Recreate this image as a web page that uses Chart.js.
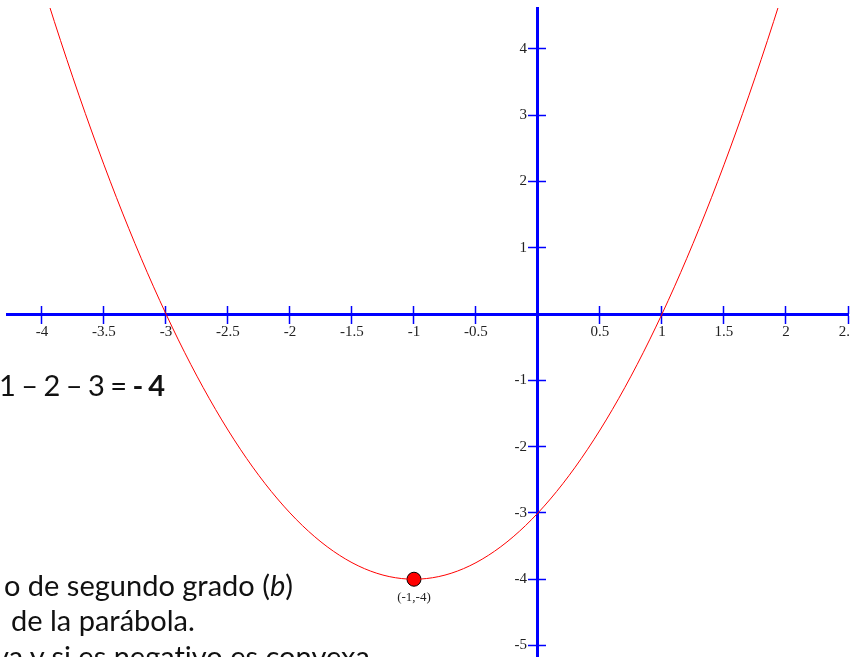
<!DOCTYPE html>
<html>
<head>
<meta charset="utf-8">
<script src="https://cdn.jsdelivr.net/npm/chart.js@4.4.1/dist/chart.umd.min.js"></script>
<style>
  html, body { margin: 0; padding: 0; background: #fff; }
  #wrap { position: relative; width: 850px; height: 657px; overflow: hidden; }
  #chart { position: absolute; left: 0; top: 0; }
  .note {
    position: absolute;
    white-space: nowrap;
    font-family: Lato, "Open Sans", sans-serif;
    font-size: 29px;
    line-height: 1;
    color: #111;
    font-variant-ligatures: none;
  }
</style>
</head>
<body>
<div id="wrap">
  <canvas id="chart" width="850" height="657"></canvas>
  <div class="note" style="left:-1px; top:370px; word-spacing:-2px">1 – 2 – 3 = <b>- 4</b></div>
  <div class="note" style="left:4px; top:570px">o de segundo grado (<i>b</i>)</div>
  <div class="note" style="left:11px; top:605px">de la parábola.</div>
  <div class="note" style="left:-6px; top:641px">va y si es negativo es convexa</div>
</div>
<script>
const curveX = [-4, -3.9, -3.8, -3.7, -3.6, -3.5, -3.4, -3.3, -3.2, -3.1,
  -3, -2.9, -2.8, -2.7, -2.6, -2.5, -2.4, -2.3, -2.2, -2.1,
  -2, -1.9, -1.8, -1.7, -1.6, -1.5, -1.4, -1.3, -1.2, -1.1,
  -1, -0.9, -0.8, -0.7, -0.6, -0.5, -0.4, -0.3, -0.2, -0.1,
  0, 0.1, 0.2, 0.3, 0.4, 0.5, 0.6, 0.7, 0.8, 0.9,
  1, 1.1, 1.2, 1.3, 1.4, 1.5, 1.6, 1.7, 1.8, 1.9, 2]
const curveY = [5, 4.41, 3.84, 3.29, 2.76, 2.25, 1.76, 1.29, 0.84, 0.41,
  0, -0.39, -0.76, -1.11, -1.44, -1.75, -2.04, -2.31, -2.56, -2.79,
  -3, -3.19, -3.36, -3.51, -3.64, -3.75, -3.84, -3.91, -3.96, -3.99,
  -4, -3.99, -3.96, -3.91, -3.84, -3.75, -3.64, -3.51, -3.36, -3.19,
  -3, -2.79, -2.56, -2.31, -2.04, -1.75, -1.44, -1.11, -0.76, -0.39,
  0, 0.41, 0.84, 1.29, 1.76, 2.25, 2.76, 3.29, 3.84, 4.41, 5]

const vertexX = [-1]
const vertexY = [-4]

const xTicks = [-4, -3.5, -3, -2.5, -2, -1.5, -1, -0.5, 0.5, 1, 1.5, 2, 2.5]
const yTicks = [-5, -4, -3, -2, -1, 1, 2, 3, 4]

const xRange = [-4.282, 2.5]
const yRange = [-5.173, 4.615]

const blue = '#0000ff'
const tickFont = { family: '"Liberation Serif", "Times New Roman", serif', size: 15 }

const curve = curveX.map((x, i) => ({ x: x, y: curveY[i] }))
const vertex = vertexX.map((x, i) => ({ x: x, y: vertexY[i] }))

const setTicks = list => scale => { scale.ticks = list.map(v => ({ value: v })) }
// axes sit inside the plot, so they should not take any room from it
const flat = s => {
  if (s.isHorizontal()) s.height = 0
  else s.width = 0
  s.paddingLeft = s.paddingRight = s.paddingTop = s.paddingBottom = 0
}
const plain = v => String(v)

// label under the vertex point
const vertexLabel = {
  id: 'vertexLabel',
  afterDatasetsDraw(chart) {
    const ctx = chart.ctx
    const meta = chart.getDatasetMeta(1)
    ctx.save()
    ctx.font = '13px "Liberation Serif", serif'
    ctx.fillStyle = '#222'
    ctx.textAlign = 'center'
    ctx.textBaseline = 'middle'
    meta.data.forEach((pt, i) => {
      ctx.fillText('(' + vertexX[i] + ',' + vertexY[i] + ')', pt.x, pt.y + 18)
    })
    ctx.restore()
  }
}

const hiddenGrid = { display: false, drawOnChartArea: false, drawTicks: false }

new Chart(document.querySelector('#chart'), {
  type: 'scatter',
  data: {
    datasets: [
      {
        data: curve,
        showLine: true,
        borderColor: '#ff0000',
        borderWidth: 1,
        pointRadius: 0,
        cubicInterpolationMode: 'monotone'
      },
      {
        data: vertex,
        backgroundColor: '#ff0000',
        borderColor: '#000',
        borderWidth: 1,
        pointRadius: 7,
        clip: false
      }
    ]
  },
  options: {
    responsive: false,
    animation: false,
    devicePixelRatio: 1,
    layout: { autoPadding: false, padding: { left: 7, top: 8, right: 2, bottom: 0 } },
    plugins: { legend: { display: false }, tooltip: { enabled: false } },
    scales: {
      x: {
        type: 'linear',
        position: { y: 0 },
        min: xRange[0], max: xRange[1],
        afterBuildTicks: setTicks(xTicks),
        afterFit: flat,
        border: { color: blue, width: 3 },
        grid: { drawOnChartArea: false, color: blue, tickLength: 8, tickWidth: 1.5 },
        ticks: { color: '#222', font: tickFont, padding: 1, autoSkip: false, maxRotation: 0, callback: plain }
      },
      x2: {
        type: 'linear',
        position: { y: 0 },
        min: xRange[0], max: xRange[1],
        afterBuildTicks: setTicks(xTicks),
        afterFit: flat,
        border: { display: false },
        grid: { drawOnChartArea: false, color: blue, tickLength: -8, tickWidth: 1.5 },
        ticks: { display: false }
      },
      y: {
        type: 'linear',
        position: { x: 0 },
        min: yRange[0], max: yRange[1],
        afterBuildTicks: setTicks(yTicks),
        afterFit: flat,
        border: { color: blue, width: 3 },
        grid: { drawOnChartArea: false, color: blue, tickLength: 8, tickWidth: 1.5 },
        ticks: { display: false }
      },
      y2: {
        type: 'linear',
        position: { x: 0 },
        min: yRange[0], max: yRange[1],
        afterBuildTicks: setTicks(yTicks),
        afterFit: flat,
        border: { display: false },
        grid: { drawOnChartArea: false, color: blue, tickLength: -8, tickWidth: 1.5 },
        ticks: { display: false }
      },
      // labels of the vertical axis, set just left of its tick marks
      yLabels: {
        type: 'linear',
        position: { x: -0.088 },
        min: yRange[0], max: yRange[1],
        afterBuildTicks: setTicks(yTicks),
        afterFit: flat,
        border: { display: false },
        grid: hiddenGrid,
        ticks: { color: '#222', font: tickFont, autoSkip: false, callback: plain }
      }
    }
  },
  plugins: [vertexLabel]
})
</script>
</body>
</html>
